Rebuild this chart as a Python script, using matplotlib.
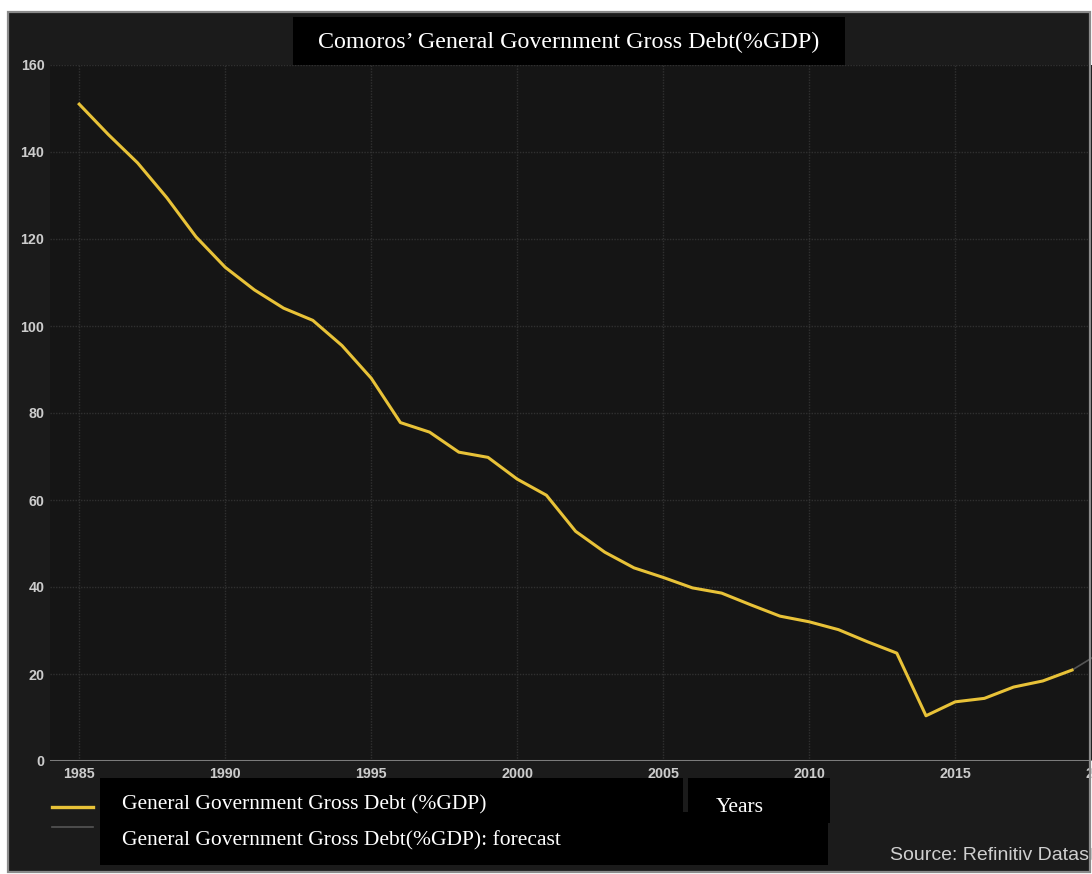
import numpy as np
import matplotlib.pyplot as plt
from matplotlib.patches import Rectangle
from matplotlib.lines import Line2D

years = list(range(1985, 2020))
debt = [151.0, 144.0, 137.5, 129.5, 120.5, 113.5, 108.3, 104.1, 101.3, 95.5,
        88.0, 77.8, 75.6, 71.0, 69.8, 64.8, 61.1, 52.8, 48.0, 44.4,
        42.2, 39.8, 38.6, 35.9, 33.3, 32.0, 30.2, 27.4, 24.8, 10.4,
        13.6, 14.4, 17.0, 18.4, 20.9]
fc_years = [2019, 2020]
fc_debt = [20.9, 25.0]
xticks = [1985, 1990, 1995, 2000, 2005, 2010, 2015, 2020]
yticks = [0, 20, 40, 60, 80, 100, 120, 140, 160]

W, H = 1092, 874
fig = plt.figure(figsize=(W / 100, H / 100), dpi=100)
fig.patch.set_facecolor("white")


def px(x, y):
    # pixel position (from top-left) -> figure fraction
    return x / W, 1 - y / H


def box(x0, y0, x1, y1, **kw):
    fx, fy = px(x0, y1)
    r = Rectangle((fx, fy), (x1 - x0) / W, (y1 - y0) / H,
                  transform=fig.transFigure, **kw)
    fig.add_artist(r)
    return r


# dark panel behind everything
box(8, 12, 1090, 872, facecolor="#1b1b1b", edgecolor="none", zorder=-2)

yr_px = 29.2
x_lo, x_hi = 1984.0, 2020.6
left, _ = px(50, 0)
ax = fig.add_axes([left, 1 - 761 / H, (x_hi - x_lo) * yr_px / W, (761 - 65) / H])
ax.set_facecolor("#151515")
ax.set_xlim(x_lo, x_hi)
ax.set_ylim(0, 160)

ax.plot(fc_years, fc_debt, color="#555555", lw=1.2, zorder=3)
ax.plot(years, debt, color="#e8c238", lw=2.2, zorder=4, solid_joinstyle="round")

ax.set_xticks(xticks)
ax.set_yticks(yticks)
ax.grid(True, color="#303030", lw=1.0, ls=(0, (1, 1)))
ax.axhline(0, color="#7c7c7c", lw=2.2, zorder=2)
for s in ax.spines.values():
    s.set_visible(False)
ax.tick_params(length=0, colors="#cccccc", labelsize=10.3, pad=4)
for lab in ax.get_xticklabels() + ax.get_yticklabels():
    lab.set_fontfamily("Liberation Sans")
    lab.set_fontweight("bold")

# outer frame line
box(8, 12, 1090, 872, facecolor="none", edgecolor="#8a8a8a", lw=1.6, zorder=6)

# title block
box(293, 17, 845, 65, facecolor="black", edgecolor="none", zorder=5)
tx, ty = px(569, 42)
fig.text(tx, ty, "Comoros’ General Government Gross Debt(%GDP)", family="Liberation Serif",
         size=17.3, color="white", ha="center", va="center", zorder=7)

# legend blocks
box(100, 778, 683, 812, facecolor="black", edgecolor="none", zorder=5)
box(688, 778, 830, 823, facecolor="black", edgecolor="none", zorder=5)
box(100, 812, 828, 865, facecolor="black", edgecolor="none", zorder=5)

for yy, col, lw in [(807, "#e8c238", 2.4), (827, "#555555", 1.2)]:
    (x0, fy), (x1, _) = px(52, yy), px(93, yy)
    fig.add_artist(Line2D([x0, x1], [fy, fy], color=col, lw=lw, transform=fig.transFigure, zorder=7))

lx, ly = px(122, 805)
fig.text(lx, ly, "General Government Gross Debt (%GDP)", family="Liberation Serif",
         size=15.5, color="white", ha="left", va="center", zorder=7)
lx, ly = px(122, 841)
fig.text(lx, ly, "General Government Gross Debt(%GDP): forecast", family="Liberation Serif",
         size=15.5, color="white", ha="left", va="center", zorder=7)
lx, ly = px(740, 807)
fig.text(lx, ly, "Years", family="Liberation Serif", size=15.5, color="white",
         ha="center", va="center", zorder=7)

sx, sy = px(890, 855)
fig.text(sx, sy, "Source: Refinitiv Datastream", family="Liberation Sans", size=14,
         color="#cfcfcf", ha="left", va="center", zorder=4)

fig.savefig("out.png", dpi=100)
